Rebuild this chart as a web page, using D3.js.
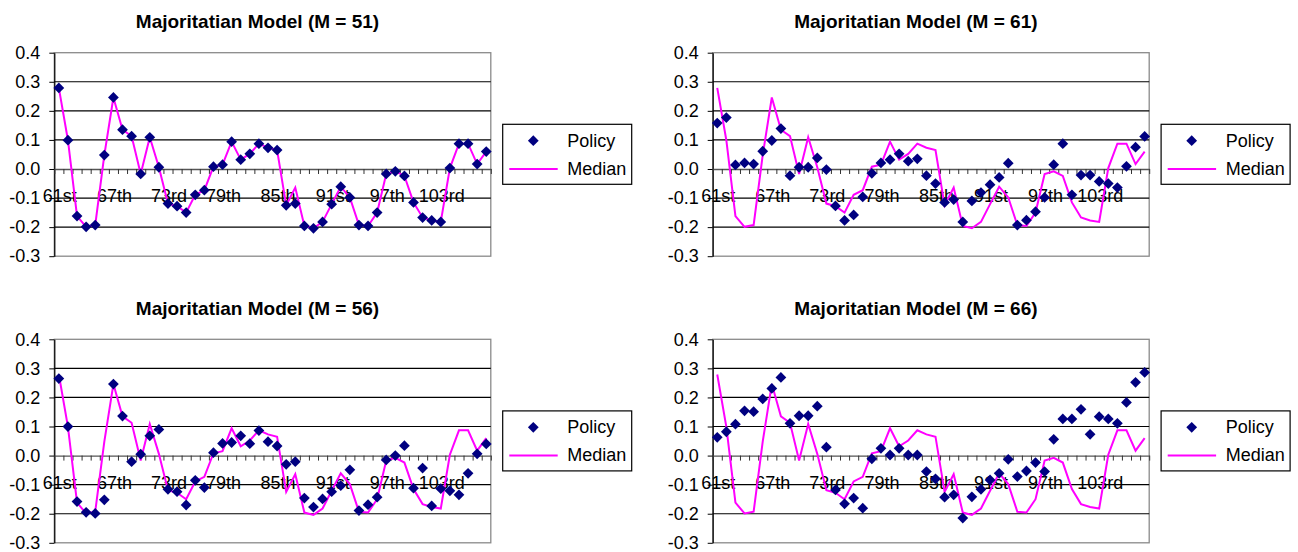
<!DOCTYPE html>
<html><head><meta charset="utf-8">
<script src="https://cdn.jsdelivr.net/npm/d3@7"></script>
<style>
body{margin:0;background:#fff}
text{font-family:Arial,"Liberation Sans",sans-serif;fill:#000}
</style>
</head><body>
<svg id="c" width="1298" height="552"></svg>
<script>
const categories = ["61st","62nd","63rd","64th","65th","66th","67th","68th","69th","70th",
  "71st","72nd","73rd","74th","75th","76th","77th","78th","79th","80th",
  "81st","82nd","83rd","84th","85th","86th","87th","88th","89th","90th",
  "91st","92nd","93rd","94th","95th","96th","97th","98th","99th","100th",
  "101st","102nd","103rd","104th","105th","106th","107th","108th"];
const xTickLabels = ["61st","67th","73rd","79th","85th","91st","97th","103rd"];
const yTicks = [-0.3,-0.2,-0.1,0.0,0.1,0.2,0.3,0.4];
const yTickLabels = ["-0.3","-0.2","-0.1","0.0","0.1","0.2","0.3","0.4"];
const gridValues = [-0.2,-0.1,0.1,0.2,0.3];

const median = [0.279,0.099,-0.162,-0.199,-0.193,0.048,0.246,0.135,0.113,-0.017,
  0.109,0.006,-0.119,-0.128,-0.150,-0.089,-0.073,0.008,0.015,0.094,
  0.032,0.052,0.087,0.073,0.065,-0.125,-0.064,-0.196,-0.204,-0.182,
  -0.121,-0.061,-0.098,-0.193,-0.196,-0.150,-0.017,-0.008,-0.024,-0.115,
  -0.167,-0.177,-0.182,0.003,0.087,0.087,0.017,0.060];
const policyM51 = [0.279,0.099,-0.162,-0.199,-0.193,0.048,0.246,0.135,0.113,-0.017,
  0.109,0.006,-0.119,-0.128,-0.150,-0.089,-0.073,0.008,0.015,0.094,
  0.032,0.052,0.087,0.073,0.065,-0.125,-0.119,-0.196,-0.204,-0.182,
  -0.121,-0.061,-0.098,-0.193,-0.196,-0.150,-0.017,-0.008,-0.024,-0.115,
  -0.167,-0.177,-0.182,0.003,0.087,0.087,0.017,0.060];
const policyM61 = [0.158,0.177,0.014,0.021,0.017,0.061,0.098,0.139,-0.023,0.006,
  0.006,0.038,-0.002,-0.127,-0.177,-0.158,-0.096,-0.015,0.021,0.032,
  0.052,0.027,0.035,-0.023,-0.050,-0.115,-0.105,-0.182,-0.110,-0.081,
  -0.054,-0.029,0.020,-0.193,-0.176,-0.147,-0.098,0.015,0.087,-0.089,
  -0.021,-0.021,-0.043,-0.050,-0.064,0.009,0.075,0.112];
const policyM56 = [0.265,0.100,-0.158,-0.195,-0.199,-0.152,0.246,0.136,-0.021,0.005,
  0.068,0.090,-0.116,-0.124,-0.170,-0.085,-0.110,0.010,0.042,0.045,
  0.068,0.041,0.086,0.048,0.033,-0.030,-0.021,-0.146,-0.177,-0.149,
  -0.124,-0.103,-0.049,-0.189,-0.169,-0.143,-0.015,0.000,0.034,-0.112,
  -0.043,-0.173,-0.114,-0.121,-0.135,-0.061,0.006,0.040];
const policyM66 = [0.063,0.082,0.108,0.154,0.151,0.195,0.231,0.269,0.111,0.137,
  0.137,0.170,0.029,-0.118,-0.166,-0.146,-0.181,-0.011,0.025,0.002,
  0.025,0.002,0.002,-0.055,-0.080,-0.143,-0.135,-0.215,-0.142,-0.116,
  -0.084,-0.061,-0.013,-0.072,-0.053,-0.024,-0.055,0.056,0.126,0.126,
  0.159,0.073,0.134,0.126,0.111,0.183,0.252,0.286];

const titles = ["Majoritatian Model (M = 51)","Majoritatian Model (M = 61)",
  "Majoritatian Model (M = 56)","Majoritatian Model (M = 66)"];
const policies = [policyM51, policyM61, policyM56, policyM66];

const svg = d3.select("#c");
svg.append("rect").attr("width",1298).attr("height",552).attr("fill","#fff");

const W = 436.5, H = 203.5;
const origins = [[54.3,52.7],[712.7,52.7],[54.3,339.3],[712.7,339.3]];
const diamond = d3.symbol().type(d3.symbolSquare).size(58);

origins.forEach(([ox,oy], k) => {
  const g = svg.append("g").attr("transform",`translate(${ox},${oy})`);
  const x = d3.scaleBand().domain(categories).range([0,W]).padding(0);
  const xb = d3.scaleLinear().domain([0,categories.length]).range([0,W]);
  const y = d3.scaleLinear().domain([-0.3,0.4]).range([H,0]);

  // plot border
  g.append("rect").attr("x",0).attr("y",0).attr("width",W).attr("height",H)
    .attr("fill","none").attr("stroke","#8a8a8a").attr("stroke-width",1.3);
  // gridlines
  g.selectAll("line.grid").data(gridValues).join("line").attr("class","grid")
    .attr("x1",0).attr("x2",W).attr("y1",d=>y(d)).attr("y2",d=>y(d))
    .attr("stroke","#000").attr("stroke-width",1.2);

  // y axis
  const ya = g.append("g").call(d3.axisLeft(y).tickValues(yTicks).tickSize(5)
      .tickFormat((d,i)=>yTickLabels[i]).tickSizeOuter(0));
  ya.select(".domain").attr("stroke","#000").attr("stroke-width",1.2);
  ya.selectAll(".tick line").attr("stroke","#000");
  ya.selectAll(".tick text").attr("x",-14).attr("font-size",18)
    .attr("font-family","Arial, 'Liberation Sans', sans-serif").attr("fill","#000");

  // x axis at 0
  const xa = g.append("g").attr("transform",`translate(0,${y(0)})`)
    .call(d3.axisBottom(xb).tickValues(d3.range(categories.length+1)).tickSize(5)
      .tickFormat("").tickSizeOuter(0));
  xa.select(".domain").attr("stroke","#555").attr("stroke-width",1.3);
  xa.selectAll(".tick line").attr("stroke","#333");
  g.selectAll("text.xl").data(xTickLabels).join("text").attr("class","xl")
    .attr("x",d=>x(d)+x.bandwidth()/2+1).attr("y",y(0)+33.5)
    .attr("text-anchor","middle").attr("font-size",18).text(d=>d);

  // median line
  const line = d3.line().x((d,i)=>x(categories[i])+x.bandwidth()/2).y(d=>y(d));
  g.append("path").datum(median).attr("d",line).attr("fill","none")
    .attr("stroke","#ff00ff").attr("stroke-width",2);
  // policy points
  g.selectAll("path.pt").data(policies[k]).join("path").attr("class","pt")
    .attr("d",diamond).attr("fill","#000080")
    .attr("transform",(d,i)=>`translate(${x(categories[i])+x.bandwidth()/2},${y(d)}) rotate(45)`);

  // title
  g.append("text").attr("x",203.2).attr("y",-24.7).attr("text-anchor","middle")
    .attr("font-size",19).attr("font-weight","bold").text(titles[k]);

  // legend
  const lg = g.append("g").attr("transform",`translate(${448.4},${71.6})`);
  lg.append("rect").attr("width",129).attr("height",60).attr("fill","#fff")
    .attr("stroke","#000").attr("stroke-width",1.2);
  lg.append("path").attr("d",diamond).attr("fill","#000080")
    .attr("transform","translate(30.6,16.4) rotate(45)");
  lg.append("line").attr("x1",6.6).attr("x2",55).attr("y1",44.7).attr("y2",44.7)
    .attr("stroke","#ff00ff").attr("stroke-width",2);
  lg.append("text").attr("x",64.6).attr("y",22.5).attr("font-size",18).text("Policy");
  lg.append("text").attr("x",64.6).attr("y",50.5).attr("font-size",18).text("Median");
});
</script>
</body></html>
